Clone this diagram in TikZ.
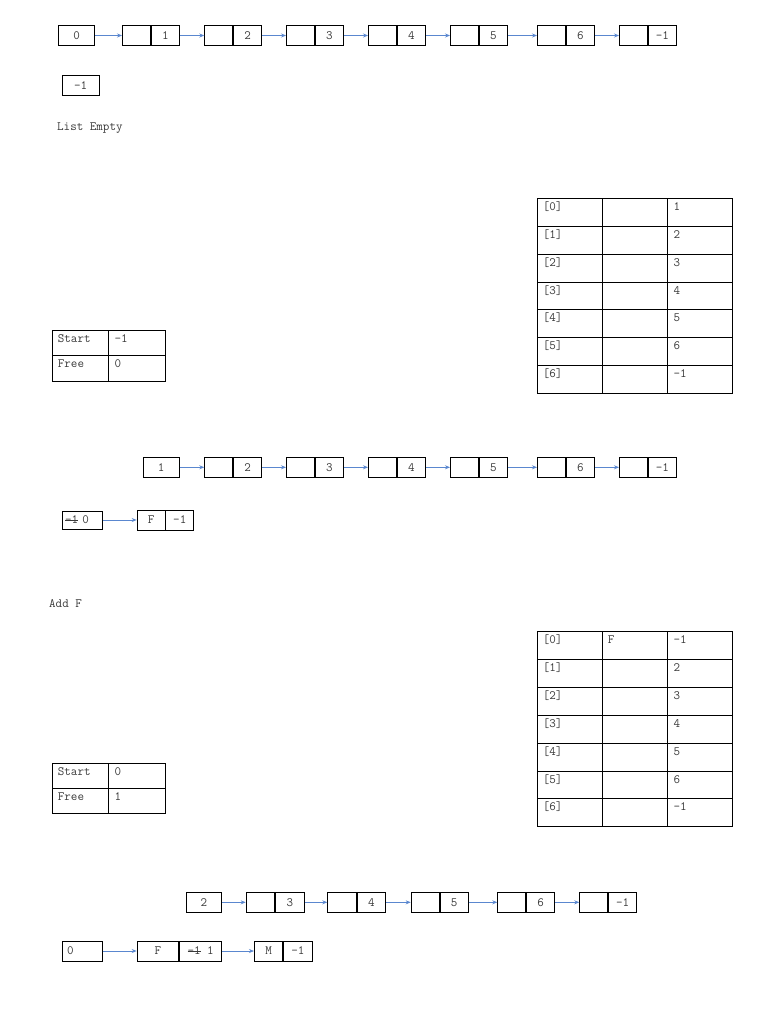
\documentclass[tikz,border=0pt]{standalone}
\usetikzlibrary{arrows.meta}
\definecolor{lnkblue}{HTML}{5A87CF}
\definecolor{txtgray}{HTML}{3A3A3A}
\newcommand{\myst}[1]{\setbox0\hbox{#1}\rlap{\rule[0.27em]{\wd0}{0.8pt}}\box0\relax}
% pair of cells: name, x, y, half width, left text, right text
\newcommand{\lpair}[6]{%
  \node[bx, minimum width=#4] (#1l) at (#2,#3) {#5};
  \node[bx, minimum width=#4] (#1r) at (#1l.east) {#6};}
% table cell: name, x, y, width, height, text
\newcommand{\tcell}[6]{%
  \node[cell, minimum width=#4, minimum height=#5] (#1) at (#2,#3) {};
  \node[ctext] (#1t) at ([shift={(6,12.5)}]#1.north west) {#6};}
\begin{document}
\begin{tikzpicture}[x=1pt,y=-1pt,
  every node/.style={font=\fontsize{12.7}{14}\selectfont\ttfamily, text=txtgray},
  bx/.style={draw=black, line width=0.9pt, rectangle, inner sep=0pt, minimum height=20pt, anchor=west},
  lnk/.style={draw=lnkblue, line width=0.9pt, -{Stealth[length=5pt,width=4pt]}},
  cell/.style={draw=black, line width=0.9pt, rectangle, inner sep=0pt, anchor=north west},
  ctext/.style={anchor=base west, inner sep=0pt}]
\useasboundingbox (0,0) rectangle (768,1024);

% ---------- Row 1 ----------
\node[bx, minimum width=36pt] (a0) at (58.3,35.5) {0};
\lpair{a1}{122}{35.5}{28pt}{}{1}
\lpair{a2}{204.3}{35.5}{28pt}{}{2}
\lpair{a3}{286}{35.5}{28pt}{}{3}
\lpair{a4}{368}{35.5}{28pt}{}{4}
\lpair{a5}{450}{35.5}{28pt}{}{5}
\lpair{a6}{537}{35.5}{28pt}{}{6}
\lpair{a7}{619}{35.5}{28pt}{}{-1}
\draw[lnk] (a0.east) -- (a1l.west);
\draw[lnk] (a1r.east) -- (a2l.west);
\draw[lnk] (a2r.east) -- (a3l.west);
\draw[lnk] (a3r.east) -- (a4l.west);
\draw[lnk] (a4r.east) -- (a5l.west);
\draw[lnk] (a5r.east) -- (a6l.west);
\draw[lnk] (a6r.east) -- (a7l.west);

% ---------- Row 2 ----------
\node[bx, minimum width=37pt] (fr1) at (61.7,85.3) {-1};
\node[anchor=base west, inner sep=0pt] (le) at (57,130.3) {List Empty};

% ---------- Table 1 ----------
\foreach \i/\v in {0/1,1/2,2/3,3/4,4/5,5/6,6/-1}{
  \tcell{ta\i a}{536.7}{198.3+\i*27.77}{65pt}{27.77pt}{[\i]}
  \tcell{ta\i b}{601.7}{198.3+\i*27.77}{65.6pt}{27.77pt}{}
  \tcell{ta\i c}{667.3}{198.3+\i*27.77}{65pt}{27.77pt}{\v}
}
\tcell{sa0a}{51.7}{330}{56.6pt}{25.3pt}{Start}
\tcell{sa0b}{108.3}{330}{57pt}{25.3pt}{-1}
\tcell{sa1a}{51.7}{355.3}{56.6pt}{25.3pt}{Free}
\tcell{sa1b}{108.3}{355.3}{57pt}{25.3pt}{0}

% ---------- Row 3 ----------
\node[bx, minimum width=36pt] (b0) at (142.7,467.3) {1};
\lpair{b1}{204.3}{467.3}{28pt}{}{2}
\lpair{b2}{286}{467.3}{28pt}{}{3}
\lpair{b3}{368}{467.3}{28pt}{}{4}
\lpair{b4}{450}{467.3}{28pt}{}{5}
\lpair{b5}{537}{467.3}{28pt}{}{6}
\lpair{b6}{619}{467.3}{28pt}{}{-1}
\draw[lnk] (b0.east) -- (b1l.west);
\draw[lnk] (b1r.east) -- (b2l.west);
\draw[lnk] (b2r.east) -- (b3l.west);
\draw[lnk] (b3r.east) -- (b4l.west);
\draw[lnk] (b4r.east) -- (b5l.west);
\draw[lnk] (b5r.east) -- (b6l.west);

% ---------- Row 4 ----------
\node[bx, minimum height=18pt, text width=34pt, align=left, inner xsep=3pt] (e0) at (61.7,520) {\myst{-1} 0};
\lpair{e1}{136.7}{520}{27.8pt}{F}{-1}
\draw[lnk] (e0.east) -- (e1l.west);
\node[anchor=base west, inner sep=0pt] (addf) at (49,607.5) {Add F};

% ---------- Table 2 ----------
\foreach \i/\f/\v in {0/F/-1,1//2,2//3,3//4,4//5,5//6,6//-1}{
  \tcell{tb\i a}{536.7}{631+\i*27.9}{65pt}{27.9pt}{[\i]}
  \tcell{tb\i b}{601.7}{631+\i*27.9}{65.6pt}{27.9pt}{\f}
  \tcell{tb\i c}{667.3}{631+\i*27.9}{65pt}{27.9pt}{\v}
}
\tcell{sb0a}{51.7}{762.7}{56.6pt}{25.3pt}{Start}
\tcell{sb0b}{108.3}{762.7}{57pt}{25.3pt}{0}
\tcell{sb1a}{51.7}{788}{56.6pt}{25.3pt}{Free}
\tcell{sb1b}{108.3}{788}{57pt}{25.3pt}{1}

% ---------- Row 5 ----------
\node[bx, minimum width=35.3pt] (c0) at (185.7,902.3) {2};
\lpair{c1}{245.7}{902.3}{28.5pt}{}{3}
\lpair{c2}{327.3}{902.3}{28.5pt}{}{4}
\lpair{c3}{410.7}{902.3}{28pt}{}{5}
\lpair{c4}{497.3}{902.3}{28pt}{}{6}
\lpair{c5}{579.3}{902.3}{28pt}{}{-1}
\draw[lnk] (c0.east) -- (c1l.west);
\draw[lnk] (c1r.east) -- (c2l.west);
\draw[lnk] (c2r.east) -- (c3l.west);
\draw[lnk] (c3r.east) -- (c4l.west);
\draw[lnk] (c4r.east) -- (c5l.west);

% ---------- Row 6 ----------
\node[bx, text width=30pt, align=left, inner xsep=5pt] (d0) at (61.7,951) {0};
\lpair{d1}{136.7}{951}{41.7pt}{F}{\myst{-1} 1}
\lpair{d2}{254}{951}{28.3pt}{M}{-1}
\draw[lnk] (d0.east) -- (d1l.west);
\draw[lnk] (d1r.east) -- (d2l.west);
\end{tikzpicture}
\end{document}
